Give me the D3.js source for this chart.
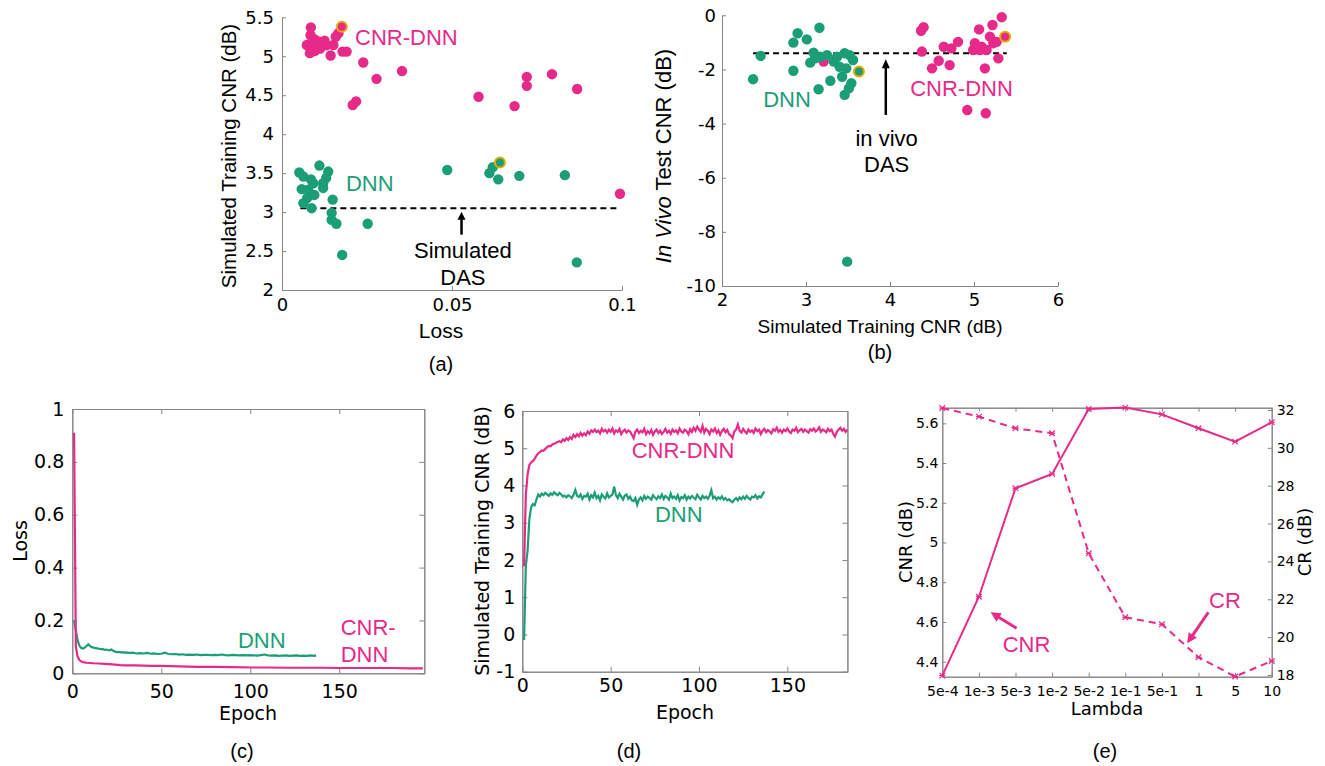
<!DOCTYPE html>
<html>
<head>
<meta charset="utf-8">
<script src="https://cdn.jsdelivr.net/npm/d3@7"></script>
<style>
  body { margin: 0; background: #fff; }
  svg { display: block; }
</style>
</head>
<body>
<svg id="fig" width="1325" height="766"></svg>
<script>
// ---------- data ----------

// (a) simulated training CNR (dB) vs loss, one dot per model
var aCnrDnn = [[0.0085,5.37],[0.0084,5.27],[0.0073,5.145],[0.0087,5.17],[0.0107,5.19],[0.0112,5.10],
  [0.0097,5.07],[0.0082,5.04],[0.0151,5.145],[0.0166,5.295],[0.0143,5.01],[0.0178,5.06],[0.019,5.06],
  [0.0095,5.22],[0.0125,5.2],[0.0105,5.12],[0.013,5.14],[0.0158,5.25],[0.0113,5.162],[0.0123,5.171],
  [0.0239,4.92],[0.0278,4.71],[0.0208,4.375],[0.0218,4.42],[0.0353,4.81],[0.0578,4.48],[0.0684,4.36],
  [0.072,4.735],[0.072,4.62],[0.0794,4.77],[0.0868,4.58],[0.0994,3.235]];
var aDnn = [[0.0051,3.508],[0.0063,3.456],[0.011,3.597],[0.0136,3.52],[0.0092,3.37],[0.0121,3.37],
  [0.0121,3.31],[0.0058,3.295],[0.0077,3.286],[0.0074,3.18],[0.0063,3.115],[0.0087,3.05],[0.0149,3.16],
  [0.0146,2.99],[0.0146,2.90],[0.016,2.85],[0.0252,2.85],[0.0177,2.45],[0.0085,3.42],[0.0095,3.22],
  [0.013,3.44],[0.0486,3.54],[0.061,3.50],[0.062,3.577],[0.0636,3.42],[0.0698,3.465],[0.0832,3.474],
  [0.0867,2.354]];
var aCnrDnnBest = [[0.0176,5.38]];
var aDnnBest = [[0.0641,3.636]];
var aDas = 3.05, aDasFrom = 0.0054, aDasTo = 0.0994;
var aXTicks = [0, 0.05, 0.1];
var aYTicks = [2, 2.5, 3, 3.5, 4, 4.5, 5, 5.5];

// (b) in vivo test CNR vs simulated training CNR
var bCnrDnn = [[3.21,-1.71],[4.40,-0.44],[4.37,-0.57],[4.38,-1.34],[4.64,-1.16],[4.73,-1.22],[4.81,-0.98],
  [4.58,-1.68],[4.50,-1.96],[4.71,-1.84],[5.06,-0.52],[5.22,-0.36],[5.33,-0.07],[5.01,-1.03],[5.09,-1.16],
  [5.19,-0.79],[5.23,-1.03],[4.99,-1.28],[5.15,-1.28],[5.27,-0.98],[5.29,-1.59],[5.13,-1.96],[4.92,-3.50],
  [5.14,-3.62],[5.07,-1.28]];
var bDnn = [[3.16,-0.46],[2.90,-0.665],[2.85,-1.01],[3.01,-0.89],[2.46,-1.50],[2.37,-2.36],[2.85,-2.05],
  [3.09,-1.38],[3.05,-1.75],[3.11,-1.59],[3.17,-1.53],[3.25,-1.47],[3.33,-1.71],[3.37,-1.53],[3.40,-1.90],
  [3.46,-1.40],[3.52,-1.47],[3.56,-1.65],[3.48,-1.96],[3.43,-2.27],[3.29,-2.42],[3.54,-2.51],[3.51,-2.70],
  [3.46,-2.94],[3.15,-2.73],[3.49,-9.10]];
var bCnrDnnBest = [[5.37,-0.79]];
var bDnnBest = [[3.63,-2.08]];
var bDas = -1.40, bDasFrom = 2.37, bDasTo = 5.39;
var bXTicks = [2, 3, 4, 5, 6];
var bYTicks = [0, -2, -4, -6, -8, -10];

// (c) loss vs epoch, [epoch, loss]
var cDnnLoss = [[1,0.2],[2,0.163],[3,0.125],[4,0.104],[5,0.096],[6,0.094],[7,0.097],[8,0.103],[9,0.11],
  [10,0.103],[11,0.099],[12,0.097],[13,0.095],[14,0.094],[15,0.093],[16,0.091],[17,0.092],[18,0.089],
  [19,0.09],[20,0.088],[21,0.087],[22,0.09],[23,0.085],[24,0.082],[25,0.08],[26,0.081],[27,0.079],
  [28,0.08],[29,0.078],[30,0.079],[32,0.077],[34,0.078],[36,0.075],[38,0.076],[40,0.075],[42,0.077],
  [44,0.074],[46,0.075],[48,0.073],[50,0.074],[52,0.078],[54,0.073],[56,0.072],[58,0.073],[60,0.071],
  [62,0.072],[64,0.07],[66,0.071],[68,0.07],[70,0.071],[72,0.069],[74,0.07],[76,0.07],[78,0.069],
  [80,0.07],[82,0.069],[84,0.071],[86,0.069],[88,0.068],[90,0.07],[92,0.069],[94,0.068],[96,0.069],
  [98,0.068],[100,0.069],[102,0.068],[104,0.067],[106,0.069],[108,0.071],[110,0.068],[112,0.067],
  [114,0.068],[116,0.066],[118,0.067],[120,0.068],[122,0.066],[124,0.067],[126,0.068],[128,0.066],
  [130,0.067],[132,0.066],[134,0.068],[136,0.066],[137,0.068]];
var cCnrDnnLoss = [[1,0.91],[2,0.1],[3,0.062],[4,0.05],[5,0.045],[6,0.042],[7,0.041],[8,0.04],[10,0.039],
  [12,0.038],[15,0.037],[18,0.036],[21,0.035],[24,0.033],[27,0.031],[30,0.03],[35,0.03],[40,0.029],
  [45,0.028],[50,0.028],[55,0.027],[60,0.026],[65,0.025],[70,0.024],[80,0.024],[90,0.023],[100,0.022],
  [110,0.022],[120,0.021],[130,0.021],[140,0.021],[150,0.02],[160,0.02],[170,0.02],[180,0.02],
  [190,0.019],[197,0.019]];
var cXTicks = [0, 50, 100, 150];
var cYTicks = [0, 0.2, 0.4, 0.6, 0.8, 1];

// (d) simulated training CNR per epoch (epoch = index + 1)
var dDnnCnr = [-0.15,1.85,2.25,3.1,3.42,3.5,3.47,3.62,3.76,3.7,
  3.78,3.74,3.8,3.76,3.72,3.79,3.75,3.82,3.77,3.74,
  3.8,3.76,3.7,3.73,3.68,3.74,3.71,3.66,3.75,3.88,
  3.72,3.69,3.76,3.64,3.72,3.7,3.78,3.62,3.74,3.68,
  3.81,3.66,3.72,3.6,3.76,3.7,3.65,3.79,3.68,3.72,
  3.75,3.97,3.74,3.66,3.78,3.7,3.62,3.73,3.76,3.64,
  3.7,3.6,3.58,3.66,3.48,3.62,3.68,3.6,3.72,3.64,
  3.7,3.66,3.62,3.74,3.68,3.63,3.71,3.66,3.76,3.64,
  3.72,3.68,3.62,3.78,3.66,3.7,3.64,3.74,3.6,3.69,
  3.66,3.74,3.62,3.7,3.65,3.72,3.67,3.63,3.75,3.68,
  3.62,3.72,3.66,3.7,3.64,3.72,3.87,3.66,3.7,3.62,
  3.68,3.64,3.71,3.62,3.66,3.6,3.63,3.58,3.55,3.62,
  3.66,3.6,3.68,3.63,3.7,3.64,3.72,3.66,3.62,3.7,
  3.68,3.74,3.65,3.71,3.68,3.76,3.84];
var dCnrDnnCnr = [1.83,3.75,4.3,4.55,4.62,4.66,4.72,4.8,4.86,4.9,
  4.94,4.93,4.98,5.03,5.06,5.05,5.1,5.12,5.14,5.17,
  5.19,5.16,5.24,5.2,5.27,5.22,5.3,5.25,5.36,5.3,
  5.38,5.32,5.41,5.34,5.4,5.35,5.45,5.39,5.48,5.44,
  5.5,5.43,5.47,5.4,5.52,5.45,5.49,5.42,5.5,5.44,
  5.53,5.4,5.48,5.44,5.52,5.38,5.46,5.5,5.42,5.48,
  5.45,5.36,5.27,5.44,5.5,5.41,5.47,5.43,5.52,5.38,
  5.46,5.4,5.49,5.36,5.45,5.5,5.41,5.47,5.38,5.44,
  5.52,5.42,5.47,5.39,5.5,5.44,5.48,5.4,5.53,5.45,
  5.42,5.5,5.46,5.38,5.51,5.44,5.55,5.47,5.58,5.5,
  5.44,5.6,5.42,5.52,5.47,5.38,5.5,5.45,5.53,5.41,
  5.48,5.36,5.46,5.52,5.43,5.49,5.38,5.34,5.27,5.45,
  5.5,5.64,5.47,5.42,5.52,5.45,5.4,5.5,5.44,5.48,
  5.41,5.53,5.46,5.5,5.38,5.47,5.52,5.43,5.49,5.45,
  5.4,5.51,5.47,5.55,5.44,5.49,5.42,5.5,5.46,5.53,
  5.45,5.41,5.5,5.47,5.55,5.43,5.48,5.52,5.44,5.5,
  5.46,5.42,5.51,5.47,5.53,5.45,5.49,5.56,5.44,5.5,
  5.47,5.43,5.52,5.46,5.5,5.38,5.31,5.44,5.5,5.55,
  5.47,5.52,5.44,5.5];
var dXTicks = [0, 50, 100, 150];
var dYTicks = [-1, 0, 1, 2, 3, 4, 5, 6];

// (e) CNR and CR vs lambda
var lambdas = ["5e-4","1e-3","5e-3","1e-2","5e-2","1e-1","5e-1","1","5","10"];
var eCnr = [4.33, 4.727, 5.273, 5.345, 5.672, 5.679, 5.645, 5.575, 5.508, 5.605];
var eCr = [32.1, 31.65, 31.03, 30.77, 24.43, 21.05, 20.68, 18.94, 17.92, 18.74];
var eCnrTicks = [4.4, 4.6, 4.8, 5, 5.2, 5.4, 5.6];
var eCrTicks = [18, 20, 22, 24, 26, 28, 30, 32];

// ---------- drawing ----------
var GREEN = "#1b9e77", PINK = "#e7298a", GOLD = "#e6ab02", AXIS = "#858585";
var TICKFONT = "DejaVu Sans", TEXTFONT = "Liberation Sans, Arial, sans-serif";
var fmt = d3.format("~g");
var svg = d3.select("#fig");

function styleAxis(g, size) {
  g.selectAll("path, line").attr("stroke", AXIS).attr("stroke-width", 1);
  g.selectAll("text").attr("font-family", TICKFONT).attr("font-size", size).attr("fill", "#000");
}

function text(g, x, y, str, color, size, anchor, family) {
  return g.append("text").attr("x", x).attr("y", y).attr("fill", color)
    .attr("font-size", size).attr("font-family", family || TEXTFONT)
    .attr("text-anchor", anchor || "start").text(str);
}

function vtext(g, x, y, str, size, family) {
  return g.append("text").attr("transform", "translate(" + x + "," + y + ") rotate(-90)")
    .attr("text-anchor", "middle").attr("font-size", size)
    .attr("font-family", family || TEXTFONT).attr("fill", "#000").text(str);
}

// line with a filled head at (x2, y2)
function arrow(g, x1, y1, x2, y2, color, w, headLen, headW) {
  var dx = x2 - x1, dy = y2 - y1, len = Math.sqrt(dx * dx + dy * dy);
  var ux = dx / len, uy = dy / len;
  var bx = x2 - ux * headLen, by = y2 - uy * headLen;
  g.append("line").attr("x1", x1).attr("y1", y1).attr("x2", bx + ux).attr("y2", by + uy)
    .attr("stroke", color).attr("stroke-width", w);
  g.append("path")
    .attr("d", "M" + x2 + "," + y2 + "L" + (bx - uy * headW) + "," + (by + ux * headW) +
      "L" + (bx + uy * headW) + "," + (by - ux * headW) + "Z")
    .attr("fill", color);
}

function dots(g, data, x, y, color) {
  g.append("g").selectAll("circle").data(data).enter().append("circle")
    .attr("cx", function(d) { return x(d[0]); })
    .attr("cy", function(d) { return y(d[1]); })
    .attr("r", 5.2).attr("fill", color);
}

function bestDots(g, data, x, y, color) {
  g.append("g").selectAll("circle").data(data).enter().append("circle")
    .attr("cx", function(d) { return x(d[0]); })
    .attr("cy", function(d) { return y(d[1]); })
    .attr("r", 5).attr("fill", color).attr("stroke", GOLD).attr("stroke-width", 2);
}

// ---- (a)
var xa = d3.scaleLinear().domain([0, 0.1]).range([282, 622]);
var ya = d3.scaleLinear().domain([2, 5.5]).range([290, 17.3]);
var ga = svg.append("g");
ga.append("g").attr("transform", "translate(0,290)")
  .call(d3.axisBottom(xa).tickValues(aXTicks).tickFormat(fmt).tickSize(-4).tickSizeOuter(0).tickPadding(8))
  .call(styleAxis, 18);
ga.append("g").attr("transform", "translate(282,0)")
  .call(d3.axisLeft(ya).tickValues(aYTicks).tickFormat(fmt).tickSize(-4).tickSizeOuter(0).tickPadding(8))
  .call(styleAxis, 18);
ga.append("line").attr("x1", xa(aDasFrom)).attr("x2", xa(aDasTo)).attr("y1", ya(aDas)).attr("y2", ya(aDas))
  .attr("stroke", "#000").attr("stroke-width", 2).attr("stroke-dasharray", "6,4");
dots(ga, aCnrDnn, xa, ya, PINK);
dots(ga, aDnn, xa, ya, GREEN);
bestDots(ga, aCnrDnnBest, xa, ya, PINK);
bestDots(ga, aDnnBest, xa, ya, GREEN);
arrow(ga, xa(0.0528), ya(2.71), xa(0.0528), ya(3.005), "#000", 2.5, 8, 4);
text(ga, xa(0.0532), ya(2.41), "Simulated", "#000", 22, "middle");
text(ga, xa(0.0532), ya(2.07), "DAS", "#000", 22, "middle");
text(ga, xa(0.0215), ya(5.145), "CNR-DNN", PINK, 22);
text(ga, xa(0.0188), ya(3.277), "DNN", GREEN, 22);
vtext(ga, 236, 156, "Simulated Training CNR (dB)", 20.5);
text(ga, 441, 338, "Loss", "#000", 21, "middle");
text(ga, 441, 371, "(a)", "#000", 20, "middle");

// ---- (b)
var xb = d3.scaleLinear().domain([2, 6]).range([722, 1058]);
var yb = d3.scaleLinear().domain([-10, 0]).range([286, 15.3]);
var gb = svg.append("g");
gb.append("g").attr("transform", "translate(0,286)")
  .call(d3.axisBottom(xb).tickValues(bXTicks).tickFormat(fmt).tickSize(-4).tickSizeOuter(0).tickPadding(7))
  .call(styleAxis, 18);
gb.append("g").attr("transform", "translate(722,0)")
  .call(d3.axisLeft(yb).tickValues(bYTicks).tickFormat(function(d) { return String(d); })
    .tickSize(-4).tickSizeOuter(0).tickPadding(6))
  .call(styleAxis, 18);
gb.append("line").attr("x1", xb(bDasFrom)).attr("x2", xb(bDasTo)).attr("y1", yb(bDas)).attr("y2", yb(bDas))
  .attr("stroke", "#000").attr("stroke-width", 2).attr("stroke-dasharray", "6,4");
dots(gb, bCnrDnn, xb, yb, PINK);
dots(gb, bDnn, xb, yb, GREEN);
bestDots(gb, bCnrDnnBest, xb, yb, PINK);
bestDots(gb, bDnnBest, xb, yb, GREEN);
arrow(gb, xb(3.95), yb(-3.68), xb(3.95), yb(-1.62), "#000", 2.5, 9, 4);
text(gb, xb(3.96), yb(-4.82), "in vivo", "#000", 22, "middle");
text(gb, xb(3.96), yb(-5.78), "DAS", "#000", 22, "middle");
text(gb, xb(2.49), yb(-3.40), "DNN", GREEN, 22);
text(gb, xb(4.24), yb(-2.98), "CNR-DNN", PINK, 22);
var yl = gb.append("text").attr("transform", "translate(671,156) rotate(-90)")
  .attr("text-anchor", "middle").attr("font-size", 22).attr("font-family", TEXTFONT).attr("fill", "#000");
yl.append("tspan").attr("font-style", "italic").text("In Vivo");
yl.append("tspan").text(" Test CNR (dB)");
text(gb, 880, 333, "Simulated Training CNR (dB)", "#000", 19, "middle");
text(gb, 880, 359, "(b)", "#000", 20, "middle");

// boxed panel with mirrored inward ticks
function boxAxes(g, x, y, xt, yt, xfmt, yfmt, size, padX, padY, tick) {
  var x0 = x.range()[0], x1 = x.range()[1], y0 = y.range()[0], y1 = y.range()[1];
  g.append("rect").attr("x", x0 + 0.5).attr("y", y1 + 0.5).attr("width", x1 - x0).attr("height", y0 - y1)
    .attr("fill", "none").attr("stroke", AXIS);
  g.append("g").attr("transform", "translate(0," + y0 + ")")
    .call(d3.axisBottom(x).tickValues(xt).tickFormat(xfmt).tickSize(-tick).tickSizeOuter(0).tickPadding(padX))
    .call(styleAxis, size);
  g.append("g").attr("transform", "translate(0," + y1 + ")")
    .call(d3.axisTop(x).tickValues(xt).tickFormat("").tickSize(-tick).tickSizeOuter(0))
    .call(styleAxis, size);
  g.append("g").attr("transform", "translate(" + x0 + ",0)")
    .call(d3.axisLeft(y).tickValues(yt).tickFormat(yfmt).tickSize(-tick).tickSizeOuter(0).tickPadding(padY))
    .call(styleAxis, size);
}

// ---- (c)
var xc = d3.scaleLinear().domain([0, 197.8]).range([72.3, 424.3]);
var yc = d3.scaleLinear().domain([0, 1]).range([673.3, 409]);
var gc = svg.append("g");
boxAxes(gc, xc, yc, cXTicks, cYTicks, fmt, fmt, 19, 11, 8, 5);
gc.append("g").attr("transform", "translate(424.3,0)")
  .call(d3.axisRight(yc).tickValues(cYTicks).tickFormat("").tickSize(-5).tickSizeOuter(0))
  .call(styleAxis, 19);
var lc = d3.line().x(function(d) { return xc(d[0]); }).y(function(d) { return yc(d[1]); });
gc.append("path").datum(cDnnLoss).attr("d", lc).attr("fill", "none").attr("stroke", GREEN).attr("stroke-width", 2.2);
gc.append("path").datum(cCnrDnnLoss).attr("d", lc).attr("fill", "none").attr("stroke", PINK).attr("stroke-width", 2.2);
text(gc, xc(93.1), yc(0.096), "DNN", GREEN, 22);
text(gc, xc(150.8), yc(0.145), "CNR-", PINK, 22);
text(gc, xc(150.8), yc(0.044), "DNN", PINK, 22);
vtext(gc, 27, 541, "Loss", 19, TICKFONT);
text(gc, 248, 720, "Epoch", "#000", 19, "middle", TICKFONT);
text(gc, 242, 758, "(c)", "#000", 20, "middle");

// ---- (d)
var xd = d3.scaleLinear().domain([0, 184]).range([522.3, 847.4]);
var yd = d3.scaleLinear().domain([-1, 6]).range([671.7, 411]);
var gd = svg.append("g");
boxAxes(gd, xd, yd, dXTicks, dYTicks, fmt, function(d) { return String(d); }, 19, 7, 7, 5);
gd.append("g").attr("transform", "translate(847.4,0)")
  .call(d3.axisRight(yd).tickValues(dYTicks).tickFormat("").tickSize(-5).tickSizeOuter(0))
  .call(styleAxis, 19);
var ld = d3.line().x(function(d, i) { return xd(i + 1); }).y(function(d) { return yd(d); });
gd.append("path").datum(dDnnCnr).attr("d", ld).attr("fill", "none").attr("stroke", GREEN).attr("stroke-width", 2.2);
gd.append("path").datum(dCnrDnnCnr).attr("d", ld).attr("fill", "none").attr("stroke", PINK).attr("stroke-width", 2.2);
text(gd, xd(61.9), yd(4.73), "CNR-DNN", PINK, 22);
text(gd, xd(75.1), yd(3.03), "DNN", GREEN, 22);
vtext(gd, 489, 541, "Simulated Training CNR (dB)", 19, TICKFONT);
text(gd, 685, 719, "Epoch", "#000", 19, "middle", TICKFONT);
text(gd, 629, 758, "(d)", "#000", 20, "middle");

// ---- (e)
var xe = d3.scaleLinear().domain([0, lambdas.length - 1]).range([942.3, 1271.7]);
var yeL = d3.scaleLinear().domain([4.3245, 5.6786]).range([676.7, 407.7]);
var yeR = d3.scaleLinear().domain([17.91, 32.12]).range([676.7, 407.7]);
var ge = svg.append("g");
boxAxes(ge, xe, yeL, d3.range(lambdas.length), eCnrTicks,
  function(i) { return lambdas[i]; }, fmt, 13, 9, 4, 4);
ge.selectAll("text").attr("font-size", 13);
ge.append("g").attr("transform", "translate(1271.7,0)")
  .call(d3.axisRight(yeR).tickValues(eCrTicks).tickFormat(fmt).tickSize(-4).tickSizeOuter(0).tickPadding(5))
  .call(styleAxis, 14);
ge.selectAll("g.tick text").filter(function() { return this.getAttribute("text-anchor") !== "middle"; })
  .attr("font-size", 14);
var leCnr = d3.line().x(function(d, i) { return xe(i); }).y(function(d) { return yeL(d); });
var leCr = d3.line().x(function(d, i) { return xe(i); }).y(function(d) { return yeR(d); });
ge.append("path").datum(eCnr).attr("d", leCnr).attr("fill", "none").attr("stroke", PINK).attr("stroke-width", 2);
ge.append("path").datum(eCr).attr("d", leCr).attr("fill", "none").attr("stroke", PINK).attr("stroke-width", 2)
  .attr("stroke-dasharray", "7,5");
var star = d3.symbol().type(d3.symbolTimes).size(22)();
function markers(data, y) {
  var m = ge.append("g").selectAll("g").data(data).enter().append("g")
    .attr("transform", function(d, i) { return "translate(" + xe(i) + "," + y(d) + ")"; });
  m.append("path").attr("d", star).attr("fill", "none").attr("stroke", PINK).attr("stroke-width", 1.2);
  m.append("line").attr("x1", -3).attr("x2", 3).attr("stroke", PINK).attr("stroke-width", 1.2);
}
markers(eCnr, yeL);
markers(eCr, yeR);
text(ge, xe(1.65), yeL(4.447), "CNR", PINK, 22);
text(ge, xe(7.29), yeL(4.669), "CR", PINK, 22);
arrow(ge, xe(2.03), yeL(4.568), xe(1.32), yeL(4.649), PINK, 3, 10, 5);
arrow(ge, xe(7.27), yeL(4.649), xe(6.69), yeL(4.493), PINK, 3, 10, 5);
vtext(ge, 912, 542, "CNR (dB)", 18, TICKFONT);
vtext(ge, 1311, 542, "CR (dB)", 18, TICKFONT);
text(ge, 1107, 715, "Lambda", "#000", 18, "middle", TICKFONT);
text(ge, 1105, 758, "(e)", "#000", 20, "middle");
</script>
</body>
</html>
